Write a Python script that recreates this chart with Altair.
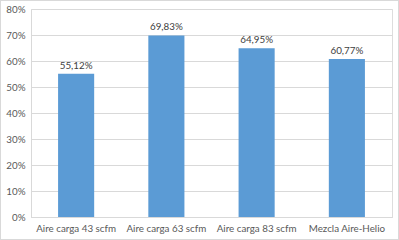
import altair as alt
import pandas as pd

categories = ["Aire carga 43 scfm", "Aire carga 63 scfm", "Aire carga 83 scfm", "Mezcla Aire-Helio"]
values = [0.5512, 0.6983, 0.6495, 0.6077]
labels = ["55,12%", "69,83%", "64,95%", "60,77%"]

df = pd.DataFrame({"cat": categories, "val": values, "lab": labels})

FONT = "Lato"
GREY = "#595959"
FS = 9.8

base = alt.Chart(df).encode(
    x=alt.X("cat:N", sort=categories, title=None,
            scale=alt.Scale(paddingInner=0.6, paddingOuter=0.3),
            axis=alt.Axis(labelAngle=0, labelFont=FONT, labelFontSize=FS, labelColor=GREY,
                          ticks=False, domainColor="#d9d9d9", labelPadding=6, grid=False)),
    y=alt.Y("val:Q", title=None,
            scale=alt.Scale(domain=[0, 0.8]),
            axis=alt.Axis(format=".0%", values=[0, 0.1, 0.2, 0.3, 0.4, 0.5, 0.6, 0.7, 0.8],
                          labelOverlap=False,
                          labelFont=FONT, labelFontSize=FS, labelColor=GREY,
                          ticks=False, domainColor="#d9d9d9", gridColor="#d9d9d9",
                          labelPadding=6)),
)

bars = base.mark_bar(color="#5B9BD5")

text = base.mark_text(dy=-8, font=FONT, fontSize=FS, color="#404040").encode(text="lab:N")

border = alt.Chart(df).mark_rect(filled=False, stroke="#d9d9d9", strokeWidth=1).encode(
    x=alt.value(-30.5), x2=alt.value(367.5), y=alt.value(-8.5), y2=alt.value(230.5)
)

chart = (border + bars + text).properties(
    width=361, height=208,
    autosize="none",
    padding={"left": 31, "top": 9, "right": 7, "bottom": 23},
).configure_view(stroke=None).configure(background="white")

chart.save("out.html", embed_options={"renderer": "svg", "actions": False})
